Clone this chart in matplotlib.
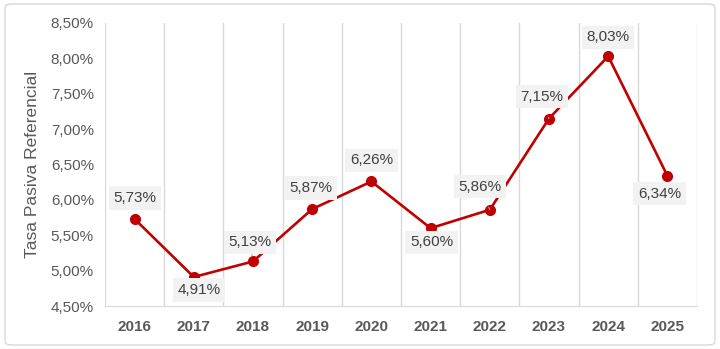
import matplotlib
matplotlib.use("Agg")
import matplotlib.pyplot as plt
from matplotlib.patches import FancyBboxPatch
from matplotlib.ticker import FuncFormatter, MultipleLocator

plt.rcParams['font.family'] = ['Liberation Sans', 'DejaVu Sans']

years = ["2016", "2017", "2018", "2019", "2020", "2021", "2022", "2023", "2024", "2025"]
rates = [5.73, 4.91, 5.13, 5.87, 6.26, 5.60, 5.86, 7.15, 8.03, 6.34]
label_offsets = [(0, 21), (5, -13), (-3, 19), (-1, 21), (0, 21), (1, -14), (-10, 23), (-7, 22), (0, 19), (-8, -18)]
leaders = [False, False, True, False, False, False, True, True, False, False]

fig = plt.figure(figsize=(7.2, 3.49), dpi=100)
fig.patches.append(FancyBboxPatch((5/720, 4/349), 710/720, 341/349,
                                  boxstyle="round,pad=0,rounding_size=0.01",
                                  transform=fig.transFigure, fill=False,
                                  edgecolor="#d9d9d9", linewidth=1))
ax = fig.add_axes([105/720, 1-306/349, 592/720, 283/349])

x = list(range(len(years)))
ax.plot(x, rates, color="#C00000", linewidth=1.9, marker="o", markersize=7,
        markerfacecolor="#C00000", markeredgecolor="#C00000", zorder=3)

ax.set_xlim(-0.5, len(years) - 0.5)
ax.set_ylim(4.5, 8.5)
ax.yaxis.set_major_locator(MultipleLocator(0.5))
ax.yaxis.set_major_formatter(FuncFormatter(lambda v, p: f"{v:.2f}%".replace(".", ",")))
ax.set_xticks(x)
ax.set_xticklabels(years, fontweight="bold", fontsize=11, color="#595959")
ax.tick_params(axis="y", labelsize=11, labelcolor="#595959", length=0, pad=8)
ax.tick_params(axis="x", length=0, pad=10)

for b in range(len(years) + 1):
    ax.axvline(b - 0.5, color="#d9d9d9", linewidth=1, zorder=0)

for s in ["top", "right", "left"]:
    ax.spines[s].set_visible(False)
ax.spines["bottom"].set_color("#d9d9d9")

ax.set_ylabel("Tasa Pasiva Referencial", fontsize=12.5, color="#595959", labelpad=8)

for xi, v, off, ld in zip(x, rates, label_offsets, leaders):
    txt = f"{v:.2f}%".replace(".", ",")
    kw = {}
    if ld:
        kw["arrowprops"] = dict(arrowstyle="-", color="#a6a6a6", linewidth=0.8, shrinkA=7, shrinkB=4)
    ax.annotate(txt, (xi, v), xytext=off, textcoords="offset pixels",
                ha="center", va="center", fontsize=11, color="#404040",
                bbox=dict(boxstyle="square,pad=0.3", facecolor="#f2f2f2", edgecolor="none"),
                zorder=4, **kw)

fig.savefig("out.png", dpi=100)
